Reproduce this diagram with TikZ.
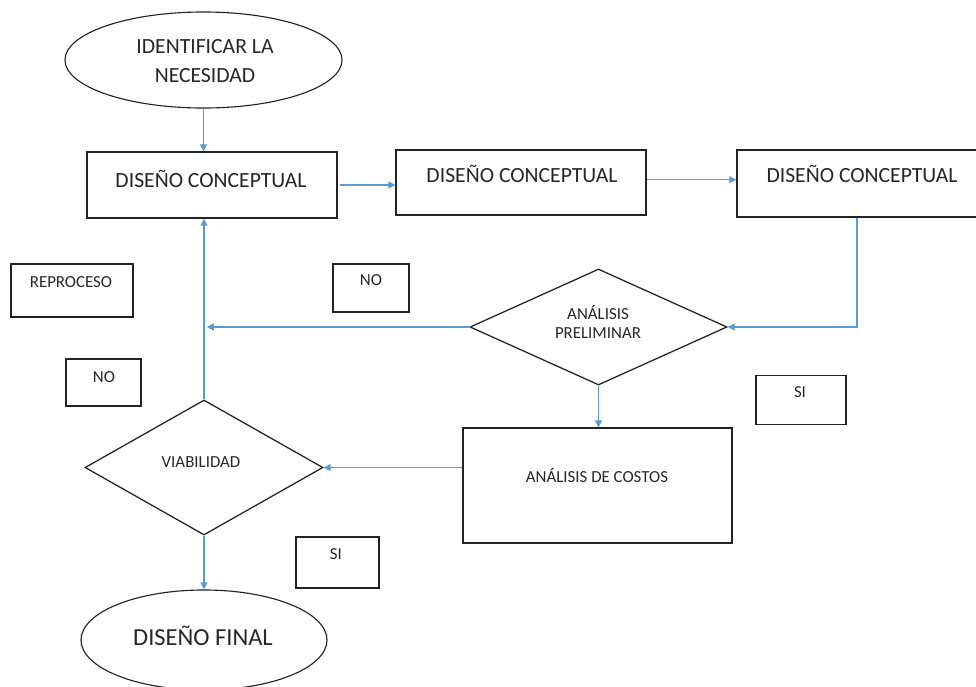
\documentclass[tikz,border=0pt]{standalone}
\usepackage{fontspec}
\setmainfont{Carlito}
\usetikzlibrary{shapes.geometric,arrows.meta}
\definecolor{azul}{RGB}{91,155,213}
\definecolor{borde}{RGB}{35,35,35}

\begin{document}
\begin{tikzpicture}[x=0.025cm,y=-0.025cm,
    caja/.style={draw=borde,line width=0.9pt,inner sep=0pt,shape=rectangle},
    elipse/.style={draw=borde,line width=0.8pt,inner sep=0pt,shape=ellipse},
    rombo/.style={draw=borde,line width=0.9pt,inner sep=0pt,shape=diamond},
    flecha/.style={draw=azul,line width=0.8pt,-{Triangle[length=5pt,width=5pt]}},
    txt/.style={anchor=base,inner sep=0pt,text=black!85},
    grande/.style={txt,font=\fontsize{15.4}{18}\selectfont},
    chico/.style={txt,font=\fontsize{12}{14}\selectfont}]
          \useasboundingbox (0,0) rectangle (976,686);
          % formas
          \draw node[elipse,minimum width=6.925cm,minimum height=2.4cm] %
            (ini) at (203.5,60) {};
          \draw node[caja,minimum width=6.25cm,minimum height=1.65cm] %
            (dc1) at (212,185) {};
          \draw node[caja,minimum width=6.25cm,minimum height=1.625cm] %
            (dc2) at (521,182.5) {};
          \draw node[caja,minimum width=6cm,minimum height=1.675cm] %
            (dc3) at (857,183.5) {};
          \draw node[rombo,minimum width=6.425cm,minimum height=2.9cm] %
            (prel) at (598.5,327) {};
          \draw node[caja,minimum width=6.725cm,minimum height=2.875cm] %
            (cost) at (597.5,485.5) {};
          \draw node[rombo,minimum width=5.95cm,minimum height=3.375cm] %
            (viab) at (204,467.5) {};
          \draw node[elipse,minimum width=6.15cm,minimum height=2.5cm] %
            (fin) at (204,640) {};
          % cuadros de texto sueltos
          \draw node[caja,minimum width=3.05cm,minimum height=1.325cm] %
            (repr) at (72,290.5) {};
          \draw node[caja,minimum width=1.9cm,minimum height=1.2cm] %
            (no1) at (371,288) {};
          \draw node[caja,minimum width=1.875cm,minimum height=1.175cm] %
            (no2) at (103.5,382.5) {};
          \draw node[caja,minimum width=2.25cm,minimum height=1.225cm] %
            (si1) at (801,400) {};
          \draw node[caja,minimum width=2.075cm,minimum height=1.275cm] %
            (si2) at (337.5,562.5) {};
          % textos
          \node[grande] (tini1) at (205,53) {IDENTIFICAR LA};
          \node[grande] (tini2) at (205,82) {NECESIDAD};
          \node[grande] (tdc1) at (211,187) {DISEÑO CONCEPTUAL};
          \node[grande] (tdc2) at (522,182) {DISEÑO CONCEPTUAL};
          \node[grande] (tdc3) at (862,182) {DISEÑO CONCEPTUAL};
          \node[chico] (tprel1) at (598,319) {ANÁLISIS};
          \node[chico] (tprel2) at (598,338) {PRELIMINAR};
          \node[chico] (tcost) at (597,482) {ANÁLISIS DE COSTOS};
          \node[chico] (tviab) at (201,467) {VIABILIDAD};
          \node[txt,font=\fontsize{17.4}{20}\selectfont] (tfin) at (203,645) {DISEÑO FINAL};
          \node[chico] (trepr) at (71,287) {REPROCESO};
          \node[chico] (tno1) at (371,285) {NO};
          \node[chico] (tno2) at (104,382) {NO};
          \node[chico] (tsi1) at (800,397) {SI};
          \node[chico] (tsi2) at (336,559) {SI};
          % conectores
          \draw[flecha] (ini.south) -- (ini.south |- dc1.north);
          \draw[flecha,shorten <=2pt] (dc1.east) -- (dc1.east -| dc2.west);
          \draw[flecha] ([yshift=2pt]dc2.east) -- ([yshift=2pt]dc2.east -| dc3.west);
          \draw[flecha] (dc3.south) |- (prel.east);
          \draw[flecha,shorten >=2pt] (prel.west) -- (prel.west -| viab.north);
          \draw[flecha] (prel.south) -- (prel.south |- cost.north);
          \draw[flecha] (viab.east -| cost.west) -- (viab.east);
          \draw[flecha] (viab.north) -- (viab.north |- dc1.south);
          \draw[flecha] (viab.south) -- (fin.north);
        \end{tikzpicture}
\end{document}
